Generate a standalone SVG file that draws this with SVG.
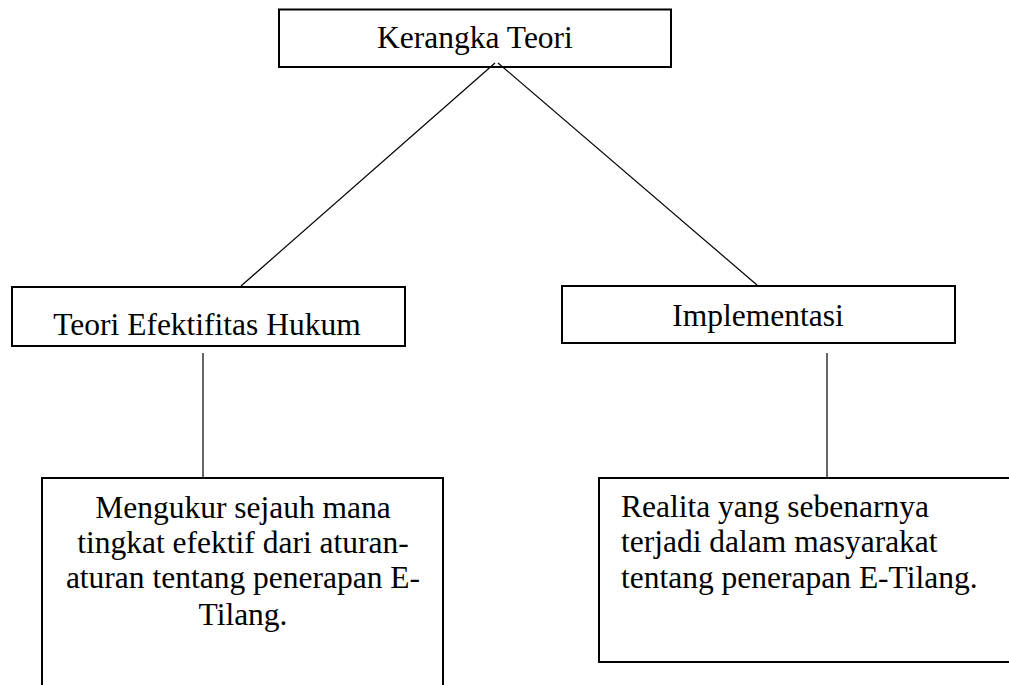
<svg xmlns="http://www.w3.org/2000/svg" width="1009" height="685" viewBox="0 0 1009 685">
<style>
.box{fill:#fff;stroke:#000;stroke-width:2}
.ln{stroke:#000;stroke-width:1.2;fill:none}
text{font-family:"Liberation Serif","Times New Roman",serif;font-size:31.5px;fill:#000}
.c{text-anchor:middle}
</style>
<rect width="1009" height="685" fill="#fff"/>
<g id="node-kerangka">
<rect class="box" x="279" y="9.5" width="392" height="57.5"/>
<text class="c" x="475" y="48">Kerangka Teori</text>
</g>
<g id="node-teori">
<rect class="box" x="12" y="287" width="393" height="59"/>
<text class="c" x="207" y="335">Teori Efektifitas Hukum</text>
</g>
<g id="node-implementasi">
<rect class="box" x="562" y="286" width="393" height="57"/>
<text class="c" x="758" y="326">Implementasi</text>
</g>
<g id="node-mengukur">
<rect class="box" x="42" y="478" width="401" height="220"/>
<text class="c" x="243" y="518">Mengukur sejauh mana</text>
<text class="c" x="243" y="553">tingkat efektif dari aturan-</text>
<text class="c" x="243" y="588">aturan tentang penerapan E-</text>
<text class="c" x="243" y="625">Tilang.</text>
</g>
<g id="node-realita">
<rect class="box" x="599" y="478" width="420" height="184"/>
<text x="621" y="517">Realita yang sebenarnya</text>
<text x="621" y="552">terjadi dalam masyarakat</text>
<text x="621" y="588">tentang penerapan E-Tilang.</text>
</g>
<g id="connectors">
<line class="ln" x1="495" y1="63" x2="241" y2="286"/>
<line class="ln" x1="498" y1="63" x2="757" y2="285"/>
<line class="ln" x1="203" y1="353" x2="203" y2="477"/>
<line class="ln" x1="827" y1="353" x2="827" y2="477"/>
</g>
</svg>
